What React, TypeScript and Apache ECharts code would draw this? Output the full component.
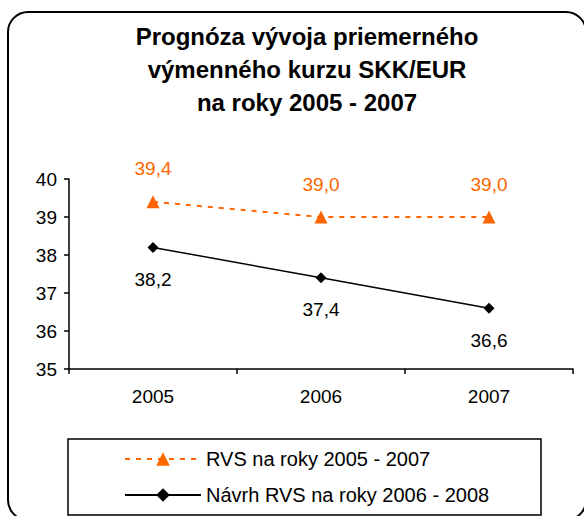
import React, { useEffect, useRef } from "react";
import * as echarts from "echarts";

const categories = ["2005", "2006", "2007"];
const seriesNames = ["RVS na roky 2005 - 2007", "Návrh RVS na roky 2006 - 2008"];
const rvs2005 = [39.4, 39.0, 39.0];
const navrh2006 = [38.2, 37.4, 36.6];
const titleLines = ["Prognóza vývoja priemerného", "výmenného kurzu SKK/EUR", "na roky 2005 - 2007"];

const FONT = '"Liberation Sans", Arial, sans-serif';
const ORANGE = "#FF6600";

const fmt = (p: any) => Number(p.value).toFixed(1).replace(".", ",");

export default function App() {
  const ref = useRef<HTMLDivElement>(null);
  useEffect(() => {
    if (!ref.current) return;
    const chart = echarts.init(ref.current, null, { renderer: "svg" });
    chart.setOption({
      animation: false,
      backgroundColor: "#fff",
      textStyle: { fontFamily: FONT },
      graphic: [
        {
          type: "rect",
          shape: { x: 8, y: 12, width: 578, height: 508, r: 20 },
          style: { fill: "none", stroke: "#000", lineWidth: 2 },
          silent: true,
        },
        {
          type: "text",
          x: 307,
          y: 20,
          style: {
            text: titleLines.join("\n"),
            font: `bold 24px ${FONT}`,
            fill: "#000",
            textAlign: "center",
            textVerticalAlign: "top",
            lineHeight: 33,
          },
        },
        {
          type: "rect",
          shape: { x: 68, y: 439, width: 473, height: 76 },
          style: { fill: "none", stroke: "#000", lineWidth: 1.5 },
          silent: true,
        },
      ],
      grid: { left: 69, right: 11, top: 179, bottom: 147, containLabel: false },
      legend: {
        orient: "vertical",
        left: 124,
        top: 449,
        padding: 0,
        itemWidth: 76,
        itemHeight: 17,
        itemGap: 16,
        data: seriesNames,
        textStyle: { fontSize: 20, lineHeight: 20, color: "#000", fontFamily: FONT },
      },
      xAxis: {
        type: "category",
        data: categories,
        boundaryGap: true,
        axisLine: { lineStyle: { color: "#000", width: 1.5 } },
        axisTick: { show: true, length: 5, interval: 0, lineStyle: { color: "#000", width: 1.5 } },
        axisLabel: { color: "#000", fontSize: 19, margin: 18, fontFamily: FONT },
      },
      yAxis: {
        type: "value",
        min: 35,
        max: 40,
        interval: 1,
        splitLine: { show: false },
        axisLine: { show: true, lineStyle: { color: "#000", width: 1.5 } },
        axisTick: { show: true, length: 5, lineStyle: { color: "#000", width: 1.5 } },
        axisLabel: { color: "#000", fontSize: 19, margin: 12, fontFamily: FONT },
      },
      series: [
        {
          name: seriesNames[0],
          type: "line",
          data: rvs2005,
          symbol: "triangle",
          symbolSize: 13,
          itemStyle: { color: ORANGE },
          lineStyle: { color: ORANGE, width: 2, type: [5, 6] },
          label: {
            show: true,
            position: "top",
            distance: 17,
            formatter: fmt,
            color: ORANGE,
            fontSize: 19,
            lineHeight: 19,
            fontFamily: FONT,
          },
        },
        {
          name: seriesNames[1],
          type: "line",
          data: navrh2006,
          symbol: "diamond",
          symbolSize: 11,
          itemStyle: { color: "#000" },
          lineStyle: { color: "#000", width: 1.5 },
          label: {
            show: true,
            position: "bottom",
            distance: 17,
            formatter: fmt,
            color: "#000",
            fontSize: 19,
            lineHeight: 19,
            fontFamily: FONT,
          },
        },
      ],
    });
    return () => chart.dispose();
  }, []);
  return (
    <div
      ref={ref}
      style={{ position: "absolute", left: 0, top: 0, width: 584, height: 516 }}
    />
  );
}
